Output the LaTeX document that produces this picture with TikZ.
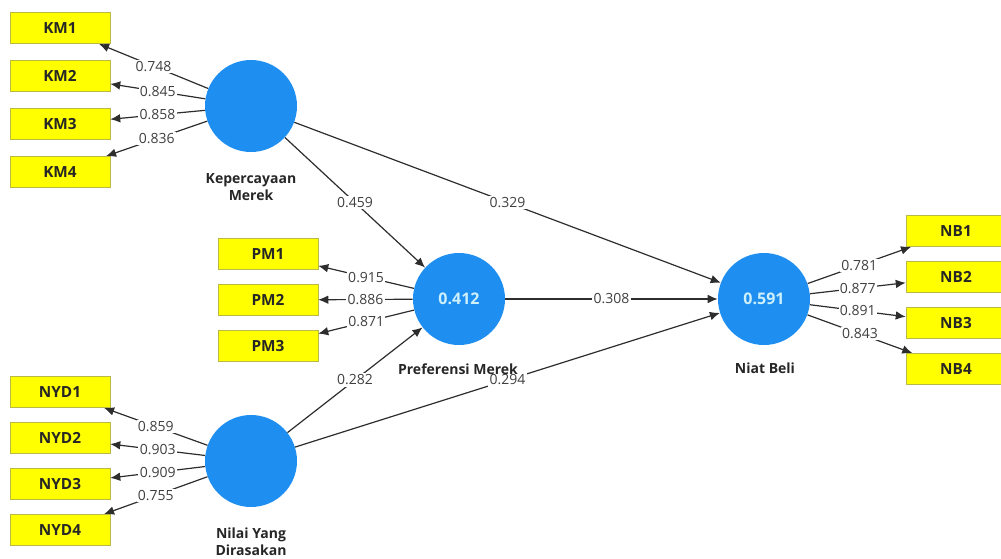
\documentclass[tikz,border=0pt]{standalone}
\usepackage{fontspec}
\setmainfont{Open Sans}
\usetikzlibrary{arrows.meta}
\definecolor{plsblue}{RGB}{30,142,240}
\definecolor{plsyellow}{RGB}{255,255,0}
\definecolor{boxedge}{RGB}{185,185,70}
\definecolor{wire}{RGB}{45,45,45}
\definecolor{lvtext}{RGB}{205,240,250}

\begin{document}
\begin{tikzpicture}[
  x=0.75pt, y=-0.75pt,
  ind/.style={draw=boxedge, fill=plsyellow, minimum width=75pt, minimum height=23.5pt, inner sep=0pt,
    font=\fontsize{11.5}{13}\selectfont\bfseries, text=black!85},
  lv/.style={circle, fill=plsblue, minimum size=69pt, inner sep=0pt,
    font=\fontsize{12}{14}\selectfont\bfseries, text=lvtext},
  lvname/.style={align=center, font=\fontsize{10.5}{12.5}\selectfont\bfseries, text=black!85},
  load/.style={draw=wire, line width=0.9pt, -{Latex[length=7.5pt,width=6.5pt]}},
  wt/.style={fill=white, inner sep=1pt, font=\fontsize{10.5}{12}\selectfont, text=black!75}
]
\clip (0,0) rectangle (1001,558);
% constructs
\node[lv] (km) at (251,106) {};
\node[lv] (pm) at (459,299) {0.412};
\node[lv] (nb) at (764,299) {0.591};
\node[lv] (nyd) at (251,461) {};
% indicators
\foreach \i/\y in {1/28,2/76,3/124,4/172}
  \node[ind] (km\i) at (60,\y) {KM\i};
\foreach \i/\y in {1/254,2/300,3/346}
  \node[ind] (pm\i) at (268,\y) {PM\i};
\foreach \i/\y in {1/231,2/277,3/323,4/369}
  \node[ind] (nb\i) at (956,\y) {NB\i};
\foreach \i/\y in {1/392,2/438,3/484,4/530}
  \node[ind] (nyd\i) at (60,\y) {NYD\i};
% outer loadings
\foreach \i/\lw in {1/0.748,2/0.845,3/0.858,4/0.836}
  \draw[load] (km) -- node[wt] {\lw} (km\i);
\foreach \i/\lw in {1/0.915,2/0.886,3/0.871}
  \draw[load] (pm) -- node[wt] {\lw} (pm\i);
\foreach \i/\lw in {1/0.781,2/0.877,3/0.891,4/0.843}
  \draw[load] (nb) -- node[wt] {\lw} (nb\i);
\foreach \i/\lw in {1/0.859,2/0.903,3/0.909,4/0.755}
  \draw[load] (nyd) -- node[wt] {\lw} (nyd\i);
% path coefficients
\draw[load] (km) -- node[wt] {0.459} (pm);
\draw[load] (km) -- node[wt] {0.329} (nb);
\draw[load] (pm) -- node[wt] {0.308} (nb);
\draw[load] (nyd) -- node[wt] {0.282} (pm);
\draw[load] (nyd) -- node[wt] {0.294} (nb);
% construct names
\node[lvname] (kmname) at (251,187) {Kepercayaan\\Merek};
\node[lvname] (pmname) at (458,369) {Preferensi Merek};
\node[lvname] (nbname) at (765,368) {Niat Beli};
\node[lvname] (nydname) at (251,542) {Nilai Yang\\Dirasakan};
\end{tikzpicture}
\end{document}
